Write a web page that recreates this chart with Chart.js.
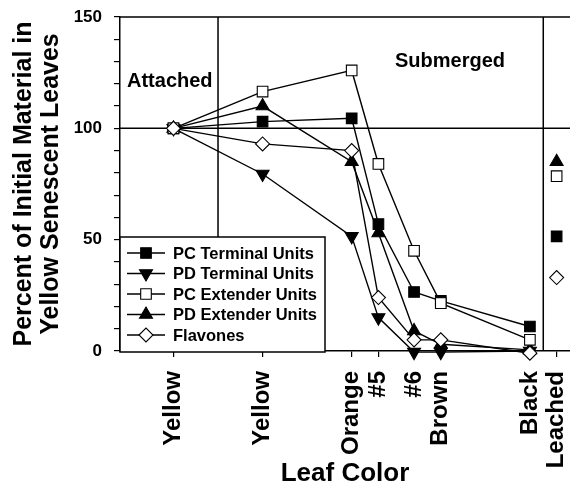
<!DOCTYPE html>
<html><head><meta charset="utf-8">
<script src="https://cdn.jsdelivr.net/npm/chart.js@4.4.0/dist/chart.umd.min.js"></script>
<style>html,body{margin:0;padding:0;background:#fff;overflow:hidden}#wrap{width:570px;height:485px;position:relative}</style>
</head><body><div id="wrap"><canvas id="c"></canvas></div>
<script>
// x positions (arbitrary sequence units) and category labels
const xPositions = [6, 16, 26, 29, 33, 36, 46, 49];
const xLabels = ['Yellow', 'Yellow', 'Orange', '#5', '#6', 'Brown', 'Black', 'Leached'];
const leachedIndex = 7;
// region boundaries on the x scale
const regionBounds = [11, 47.5];
const regionLabels = ['Attached', 'Submerged'];
// y ticks
const yTickStep = 10;
const yLabelEvery = 50;
const yMin = 0, yMax = 150;
const refLine = 100;

// series values (% of initial material)
const pcTerminal = [100, 103, 104.5, 57, 26.5, 22.5, 11, 51.5];
const pdTerminal = [100, 79.5, 51.5, 15, -0.5, -0.5, 0, null];
const pcExtender = [100, 116.5, 126, 84, 45, 21.5, 5, 78.5];
const pdExtender = [100, 110, 85, 53, 9, 3, 0.5, 85];
const flavones = [100, 93, 90, 24, 5, 5, -1, 33];

const seriesNames = ['PC Terminal Units', 'PD Terminal Units', 'PC Extender Units', 'PD Extender Units', 'Flavones'];

const FONT = "'Liberation Sans', Arial, Helvetica, sans-serif";

function mk(label, values, style, rot, fill, r, order) {
  return {
    label, order,
    data: values.map((y, i) => ({x: xPositions[i], y})),
    borderColor: '#000', borderWidth: 1.4,
    pointStyle: style, pointRotation: rot, pointRadius: r, pointHoverRadius: r,
    pointBackgroundColor: fill, pointBorderColor: '#000', pointBorderWidth: 1.1,
    tension: 0, fill: false, clip: false, spanGaps: false,
    segment: { borderColor: ctx => ctx.p1DataIndex === leachedIndex ? 'rgba(0,0,0,0)' : '#000' }
  };
}

const datasets = [
  mk(seriesNames[0], pcTerminal, 'rect', 0, '#000', 7.5, 4),
  mk(seriesNames[1], pdTerminal, 'triangle', 180, '#000', 7.5, 3),
  mk(seriesNames[2], pcExtender, 'rect', 0, '#fff', 7.5, 1),
  mk(seriesNames[3], pdExtender, 'triangle', 0, '#000', 7.5, 2),
  mk(seriesNames[4], flavones, 'rectRot', 0, '#fff', 7, 0)
];

const decor = {
  id: 'decor',
  beforeDatasetsDraw(chart) {
    const {ctx, chartArea: a, scales: {x, y}} = chart;
    const W = chart.width;
    ctx.save();
    ctx.strokeStyle = '#000';
    ctx.lineWidth = 1.5;
    ctx.beginPath();
    ctx.moveTo(a.left, a.top); ctx.lineTo(W, a.top);
    const yr = y.getPixelForValue(refLine);
    ctx.moveTo(a.left, yr); ctx.lineTo(W, yr);
    regionBounds.forEach(v => {
      const px = x.getPixelForValue(v);
      ctx.moveTo(px, a.top); ctx.lineTo(px, a.bottom);
    });
    ctx.stroke();
    ctx.fillStyle = '#000';
    ctx.font = 'bold 20px ' + FONT;
    ctx.textBaseline = 'alphabetic';
    ctx.textAlign = 'left';
    ctx.fillText(regionLabels[0], a.left + 7, a.top + 70);
    ctx.fillText(regionLabels[1], a.left + 275, a.top + 50);
    ctx.restore();
  },
  afterDraw(chart) {
    const {ctx, chartArea: a} = chart;
    const left = a.left, top = a.bottom - 114, w = 205, h = 115;
    ctx.save();
    ctx.fillStyle = '#fff';
    ctx.fillRect(left, top, w, h);
    ctx.strokeStyle = '#000';
    ctx.lineWidth = 1.5;
    ctx.strokeRect(left, top, w, h);
    ctx.font = 'bold 16.5px ' + FONT;
    ctx.textBaseline = 'middle';
    ctx.textAlign = 'left';
    chart.data.datasets.forEach((ds, i) => {
      const cy = top + 16 + i * 20.5;
      ctx.strokeStyle = '#000';
      ctx.lineWidth = 1.4;
      ctx.beginPath();
      ctx.moveTo(left + 7, cy); ctx.lineTo(left + 45, cy);
      ctx.stroke();
      ctx.fillStyle = ds.pointBackgroundColor;
      ctx.lineWidth = ds.pointBorderWidth;
      Chart.helpers.drawPoint(ctx, {pointStyle: ds.pointStyle, rotation: ds.pointRotation, radius: ds.pointRadius, borderWidth: ds.pointBorderWidth}, left + 26, cy);
      ctx.fillStyle = '#000';
      ctx.fillText(ds.label, left + 53, cy + 1);
    });
    ctx.restore();
  }
};

new Chart(document.getElementById('c'), {
  type: 'line',
  data: { datasets },
  options: {
    responsive: true, maintainAspectRatio: false, animation: false,
    layout: { autoPadding: false, padding: { top: 17, right: 0, left: 0, bottom: 0 } },
    plugins: { legend: { display: false }, tooltip: { enabled: false } },
    scales: {
      x: {
        type: 'linear', min: 0, max: 50.5,
        afterBuildTicks: s => { s.ticks = xPositions.map(v => ({value: v})); },
        afterFit: s => { s.height = 134; s.paddingLeft = 0; s.paddingRight = 0; },
        ticks: {
          autoSkip: false, minRotation: 90, maxRotation: 90, padding: 14,
          color: '#000', font: { family: FONT, size: 24, weight: 'bold' },
          callback: (v, i) => xLabels[i]
        },
        grid: { display: true, drawOnChartArea: false, drawTicks: true, tickLength: 6, color: '#000', lineWidth: 1.2 },
        border: { display: true, color: '#000', width: 1.5 },
        title: { display: true, text: 'Leaf Color', color: '#000', font: { family: FONT, size: 26, weight: 'bold', lineHeight: 1 }, padding: { top: 0, bottom: -2 } }
      },
      y: {
        min: yMin, max: yMax,
        afterFit: s => { s.width = 120; s.paddingTop = 0; s.paddingBottom = 0; },
        ticks: {
          autoSkip: false, stepSize: yTickStep, padding: 12, color: '#000',
          font: { family: FONT, size: 17, weight: 'bold' },
          callback: v => (v % yLabelEvery === 0 ? String(v) : '')
        },
        grid: { display: true, drawOnChartArea: false, drawTicks: true, tickLength: 6, color: '#000', lineWidth: 1.2 },
        border: { display: true, color: '#000', width: 1.5 },
        title: { display: true, text: ['Percent of Initial Material in', 'Yellow Senescent Leaves'], color: '#000', font: { family: FONT, size: 25, weight: 'bold', lineHeight: 1.08 }, padding: { top: 11, bottom: 0 } }
      }
    }
  },
  plugins: [decor]
});
</script>
</body></html>
